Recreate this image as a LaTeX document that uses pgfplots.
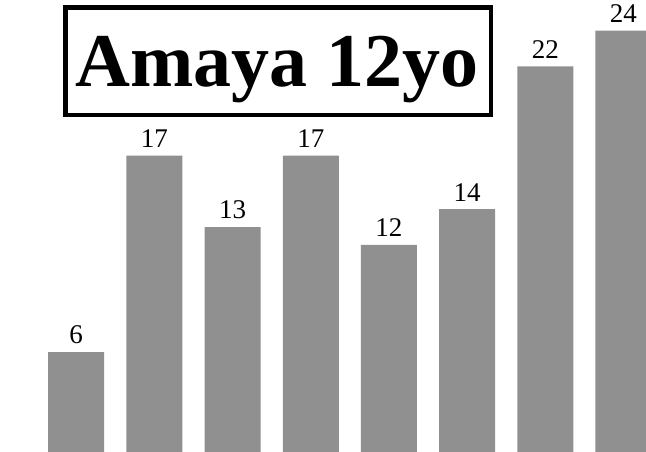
\documentclass[border=0pt]{standalone}
\usepackage{pgfplots}
\pgfplotsset{compat=1.18}
\usepackage{fontspec}
\setmainfont{Liberation Serif}
\definecolor{barg}{HTML}{909090}
\begin{document}
\begin{tikzpicture}
\begin{axis}[
  scale only axis, width=646pt, height=452pt,
  hide axis,
  xmin=-0.975, xmax=7.288, ymin=0.40, ymax=25.72,
  ybar, bar width=56pt, bar shift=0pt,
  /pgf/number format/assume math mode=true,
  nodes near coords,
  every node near coord/.append style={font=\fontsize{27}{30}\selectfont, inner sep=0pt, anchor=south, yshift=8pt, color=black},
]
\addplot[fill=barg, draw=none] coordinates {(0,6) (1,17) (2,13) (3,17) (4,12) (5,14) (6,22) (7,24)};
\coordinate (sw) at (rel axis cs:0,0);
\coordinate (ne) at (rel axis cs:1,1);
\node[draw=black, line width=4.5pt, fill=white, inner sep=0pt, minimum width=425.5pt, minimum height=107.5pt] at (axis cs:2.581,22.30) {};
\node[inner sep=0pt, anchor=base, font=\bfseries\fontsize{76}{80}\selectfont] at (axis cs:2.568,20.85) {Amaya 12yo};
\end{axis}
\pgfresetboundingbox
\path[use as bounding box] (sw) rectangle (ne);
\end{tikzpicture}
\end{document}
